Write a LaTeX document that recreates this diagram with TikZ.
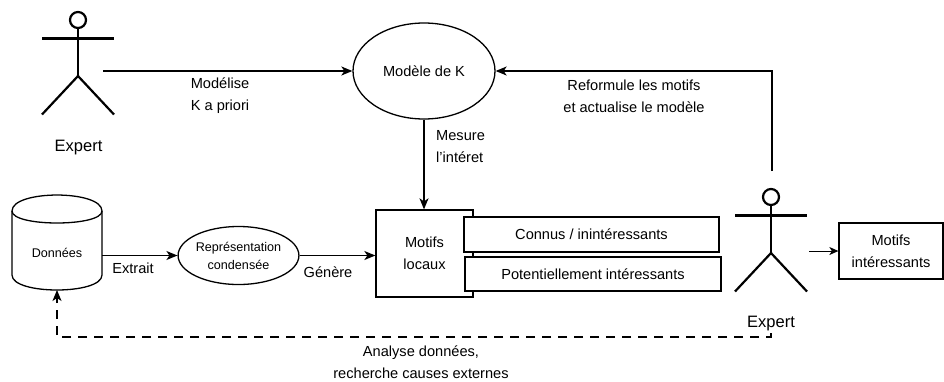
\documentclass[tikz,border=0pt]{standalone}
\usepackage{fontspec}
\setmainfont{Liberation Sans}
\usetikzlibrary{shapes.geometric,arrows.meta,calc}
\begin{document}
\begin{tikzpicture}[x=1pt,y=-1pt,
  txt/.style={font=\fontsize{14.6}{22}\selectfont, align=center, inner sep=0pt},
  small/.style={font=\fontsize{12.6}{18}\selectfont, align=center, inner sep=0pt},
  big/.style={font=\fontsize{16.5}{20}\selectfont, inner sep=0pt},
  shp/.style={draw, line width=1.3pt, fill=white, inner sep=0pt},
  conn/.style={line width=1.3pt, -{Stealth[length=11pt,width=9pt,inset=3pt]}},
  thinconn/.style={line width=1pt, -{Stealth[length=9pt,width=8pt,inset=2.5pt]}},
  dashconn/.style={line width=1.3pt, dash pattern=on 9pt off 7pt, -{Stealth[length=11pt,width=9pt,inset=3pt]}},
  stick/.style={line width=2.2pt},
  actor/.pic={
    \draw[stick] (0,0) circle[radius=8pt];
    \draw[stick] (0,8) -- (0,56);
    \draw[stick] (-36,18.5) -- (36,18.5);
    \draw[stick] (-36,94.5) -- (0,56) -- (36,94.5);
  }
]
\useasboundingbox (0,0) rectangle (944,381);

% actors
\pic at (78,20) {actor};
\node[big] (exp1) at (78.5,148) {Expert};
\pic at (771,197) {actor};
\node[big] (exp2) at (771,324) {Expert};
\coordinate (a1r) at (103,71);
\coordinate (a2t) at (772,171);
\coordinate (a2r) at (809,251);
\coordinate (a2b) at (771,333);
\coordinate (dcorner) at (771,337);

% Modele de K
\node[shp, ellipse, minimum width=142pt, minimum height=96pt, txt] (mk) at (424,71) {Modèle de K};

% Donnees
\draw[line width=1.3pt, fill=white] (12,211) .. controls (12,189.7) and (102,189.7) .. (102,211) -- (102,275) .. controls (102,295) and (12,295) .. (12,275) -- cycle;
\draw[line width=1.3pt] (12,211) .. controls (12,227) and (102,227) .. (102,211);
\node[small] (don) at (57,253) {Données};
\coordinate (donb) at (57,290);
\coordinate (donr) at (102,255.5);

% Representation condensee
\node[shp, ellipse, minimum width=115pt, minimum height=58pt, small] (rep) at (238.5,255.5) {Représentation\\condensée};

% Motifs locaux
\node[shp, minimum width=97pt, minimum height=87pt, txt] (ml) at (424.5,253.5) {Motifs\\locaux};
\node[shp, minimum width=255pt, minimum height=35pt, txt] (cn) at (591.5,234.5) {Connus / inintéressants};
\node[shp, minimum width=256pt, minimum height=34pt, txt] (pi) at (593,274) {Potentiellement intéressants};

% Motifs interessants
\node[shp, minimum width=104pt, minimum height=56pt, txt] (mi) at (891,251) {Motifs\\intéressants};

% connectors
\draw[conn] (a1r) -- (mk.west);
\node[txt] (l1) at (220,95.5) {Modélise\\K a priori};

\draw[conn] (mk.south) -- (ml.north -| mk.south);
\node[txt, align=left, anchor=west] (l2) at (436,146.5) {Mesure\\l’intéret};

\draw[conn] (a2t) |- (mk.east);
\node[txt] (l3) at (634,96) {Reformule les motifs\\et actualise le modèle};

\draw[conn] (donr) -- (rep.west);
\node[txt] (l4) at (133,268.3) {Extrait};

\draw[conn] (rep.east) -- (rep.east -| ml.west);
\node[txt] (l5) at (328,271.7) {Génère};

\draw[thinconn] (a2r) -- (mi.west);

\draw[dashconn] (a2b) -- (dcorner) -| (donb);
\node[txt] (l6) at (421,362.5) {Analyse données,\\recherche causes externes};
\end{tikzpicture}
\end{document}
